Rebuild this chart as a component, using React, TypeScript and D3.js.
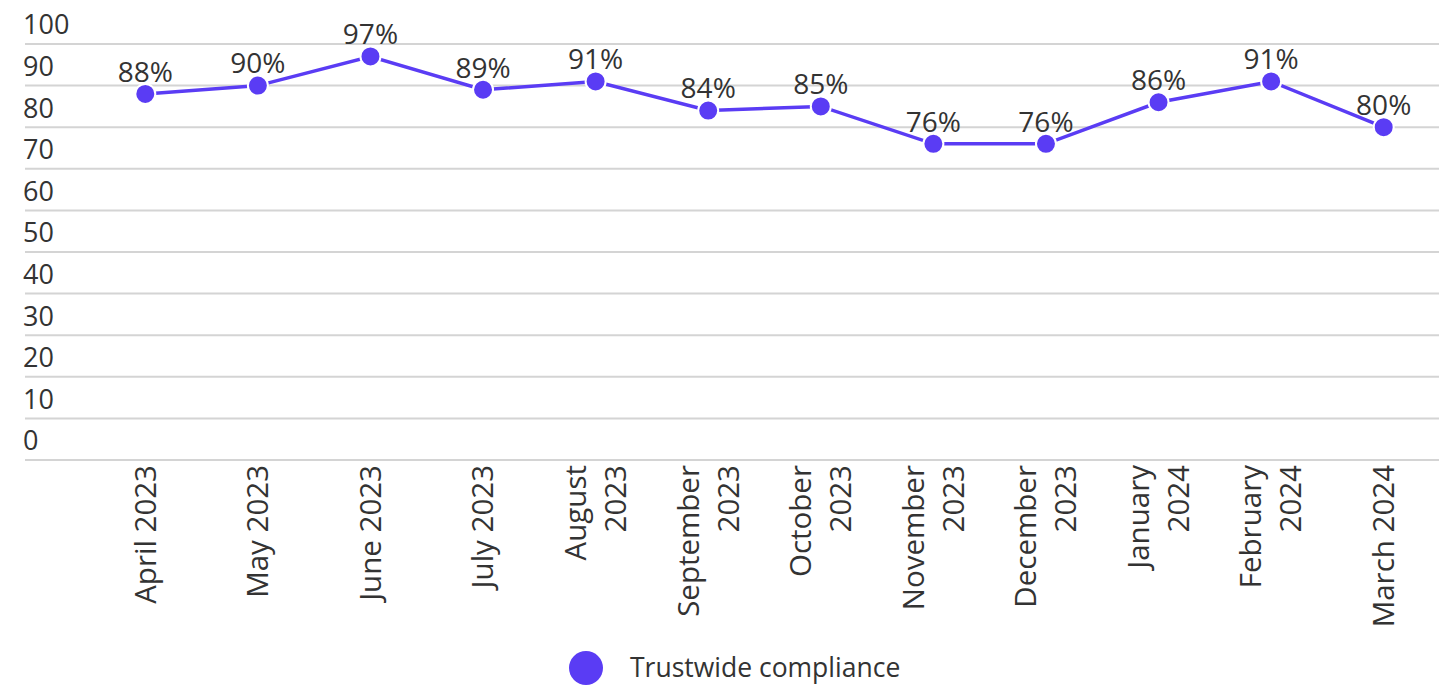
import React from "react";
import * as d3 from "d3";

const months: string[][] = [
  ["April 2023"],
  ["May 2023"],
  ["June 2023"],
  ["July 2023"],
  ["August", "2023"],
  ["September", "2023"],
  ["October", "2023"],
  ["November", "2023"],
  ["December", "2023"],
  ["January", "2024"],
  ["February", "2024"],
  ["March 2024"],
];
const compliance: number[] = [88, 90, 97, 89, 91, 84, 85, 76, 76, 86, 91, 80];
const yTicks: number[] = [0, 10, 20, 30, 40, 50, 60, 70, 80, 90, 100];
const seriesName = "Trustwide compliance";

const W = 1439;
const H = 688;
const COLOR = "#5a3cf4";
const FONT = "'Open Sans', sans-serif";

export default function App() {
  const keys = months.map((m) => m.join(" "));
  const x = d3.scaleBand<string>().domain(keys).range([89, 1440]);
  const y = d3.scaleLinear().domain([0, 100]).range([460, 44]);
  const cx = (i: number) => (x(keys[i]) as number) + x.bandwidth() / 2;

  const line = d3
    .line<number>()
    .x((_, i) => cx(i))
    .y((d) => y(d));

  return (
    <svg
      width={W}
      height={H}
      style={{ position: "absolute", left: 0, top: 0, background: "#fff" }}
      fontFamily={FONT}
    >
      {yTicks.map((t) => (
        <g key={t}>
          <line x1={25} x2={W} y1={y(t)} y2={y(t)} stroke="#d4d4d4" strokeWidth={2} />
          <text x={23} y={y(t) - 19} dy="0.35em" fontSize={27} fill="#333">
            {t}
          </text>
        </g>
      ))}
      {months.map((m, i) => {
        const n = m.length;
        return (
          <g key={i} transform={`translate(${cx(i)},465) rotate(-90)`}>
            {m.map((ln, j) => (
              <text
                key={j}
                x={0}
                y={(j - (n - 1) / 2) * 40}
                dy="0.35em"
                textAnchor="end"
                fontSize={29.5}
                fill="#333"
              >
                {ln}
              </text>
            ))}
          </g>
        );
      })}
      <path d={line(compliance) || ""} fill="none" stroke={COLOR} strokeWidth={3.5} />
      {compliance.map((v, i) => (
        <g key={i}>
          <circle cx={cx(i)} cy={y(v)} r={10} fill={COLOR} stroke="#fff" strokeWidth={2} />
          <text
            x={cx(i)}
            y={y(v) - 22}
            dy="0.35em"
            textAnchor="middle"
            fontSize={28}
            fill="#333"
          >
            {v}%
          </text>
        </g>
      ))}
      <circle cx={586} cy={668} r={17} fill={COLOR} />
      <text x={630} y={668} dy="0.35em" fontSize={26.5} fill="#333">
        {seriesName}
      </text>
    </svg>
  );
}
